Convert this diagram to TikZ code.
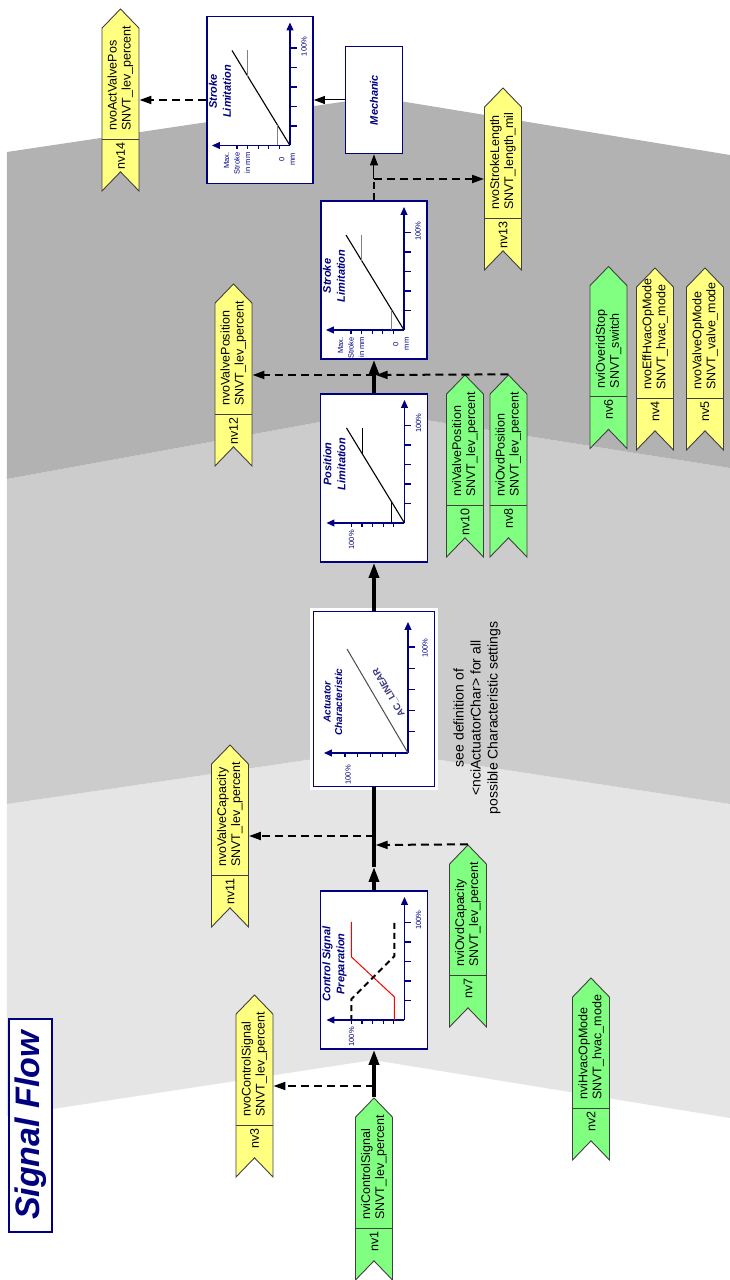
\documentclass[tikz,border=0pt]{standalone}
\usepackage{fontspec}
\setmainfont{Liberation Sans}
\usetikzlibrary{shapes.symbols, arrows.meta}

\definecolor{azul}{RGB}{0,0,128}
\definecolor{verde}{RGB}{128,255,128}
\definecolor{amarillo}{RGB}{255,255,128}
\definecolor{borde}{RGB}{64,64,64}

\tikzset{
  etiqueta/.style={signal, signal to=east, signal from=west, signal pointer angle=88,
    draw=borde, line width=0.9, minimum width=182, minimum height=37, inner sep=0},
  caja/.style={draw=azul, fill=white, line width=1.8, inner sep=0},
  titulo/.style={text=azul, align=center, font=\fontsize{11}{14}\selectfont\bfseries\itshape},
  rotulo/.style={text=azul, font=\fontsize{7.5}{10.5}\selectfont, inner sep=0},
  texto/.style={font=\fontsize{12.5}{14}\selectfont, inner sep=0},
  flujo/.style={line width=3.4, -{Triangle[length=15pt,width=10pt]}},
  salida/.style={line width=2, dash pattern=on 8pt off 5pt, -{Triangle[length=12pt,width=8pt]}},
  fina/.style={line width=1, -{Triangle[length=11pt,width=8pt]}},
  eje/.style={azul, line width=1.2},
}

% etiqueta nv: nombre, x, y, color, nv, linea 1, linea 2
\newcommand{\nvtag}[7]{%
  \node[etiqueta, fill=#4] (#1) at (#2,#3) {};
  \draw[borde, line width=0.9] ({#2-39},{#3-18.5}) -- ({#2-39},{#3+18.5});
  \node[texto, anchor=east] (#1-nv) at ({#2-42},#3) {#5};
  \node[texto, anchor=west, align=left] (#1-txt) at ({#2-31},#3) {#6\\#7};
}

% ejes de un grafico: origen x, origen y, largo x, largo y, paso x, paso y
\newcommand{\ejes}[6]{%
  \begin{scope}[shift={(#1,#2)}]
    \draw[eje, -{Triangle[length=8pt,width=7pt]}] (0,0) -- (#3,0);
    \draw[eje, -{Triangle[length=8pt,width=7pt]}] (0,0) -- (0,#4);
    \foreach \i in {1,...,5}{
      \draw[eje] (\i*#5,0) -- (\i*#5,-7);
      \draw[eje] (0,\i*#6) -- (-4,\i*#6);
    }
  \end{scope}}

\begin{document}
\begin{tikzpicture}[x=1pt, y=1pt, rotate=90, transform shape]
  \useasboundingbox (0,0) rectangle (1280,730);

  % bandas de fondo
  \fill[black!10] (164,723) -- (220,357) -- (162,0) -- (476,0) -- (530,355) -- (476,723) -- cycle;
  \fill[black!20] (476,723) -- (530,355) -- (476,0) -- (812,0) -- (868,355) -- (801,723) -- cycle;
  \fill[black!30] (801,723) -- (868,355) -- (812,0) -- (1125,0) -- (1183,355) -- (1128,723) -- cycle;

  \node[caja, line width=2, minimum width=213, minimum height=43, text=azul,
    font=\fontsize{34}{34}\selectfont\bfseries\itshape] (sf) at (154.5,699.5) {Signal Flow};

  % cajas
  \node[caja, minimum width=158, minimum height=107] (csp) at (310,356) {};
  \node[caja, minimum width=175, minimum height=121, preaction={draw=white, line width=7}] (act) at (581,356) {};
  \node[caja, minimum width=168, minimum height=107] (pos) at (802,356) {};
  \node[caja, minimum width=158, minimum height=106] (str) at (1000,356) {};
  \node[caja, minimum width=107, minimum height=57] (mec) at (1180,356) {};
  \node[caja, minimum width=167, minimum height=106] (strt) at (1180,470) {};
  \node[titulo] (mec-t) at (mec.center) {Mechanic};

  % control signal preparation
  \ejes{260}{325.5}{123}{78}{19.5}{10.6}
  \draw[red, line width=1] (260,335.5) -- (283,335.5) -- (323,378.5) -- (358,378.5);
  \draw[line width=2, dash pattern=on 6pt off 4pt] (357,335.5) -- (324,335.5) -- (281,378.5) -- (260,378.5);
  \node[titulo] (csp-t) at (316,395.5) {Control Signal\\Preparation};
  \node[rotulo] (csp-px) at (360,311.5) {100\%};
  \node[rotulo, anchor=east] (csp-py) at (253,378.5) {100\%};

  % actuator characteristic
  \ejes{527}{322}{131}{84}{21.2}{12.6}
  \draw[gray!60!black, line width=1] (527,322) -- (631,383);
  \node[text=azul!55!gray, rotate=30.4, inner sep=0, font=\fontsize{9.5}{10}\selectfont\bfseries] (act-l) at (588,341) {AC\_LINEAR};
  \node[titulo, font=\fontsize{10}{11.5}\selectfont\bfseries\itshape] (act-t) at (578,397) {Actuator\\Characteristic};
  \node[rotulo] (act-px) at (632,305) {100\%};
  \node[rotulo, anchor=east] (act-py) at (515,382) {100\%};
  \node[font=\fontsize{14}{17}\selectfont, align=center] (nota) at (562,253)
    {see definition of\\<nciActuatorChar> for all\\possible Characteristic settings};

  % position limitation
  \ejes{757}{325.5}{123}{78}{19.5}{10.6}
  \draw[line width=1.1] (757,325.5) -- (852,383.5);
  \draw[line width=1] (825.5,367.5) -- (852,367.5);
  \draw[line width=1] (757,338.5) -- (778,338.5);
  \node[titulo] (pos-t) at (816,395.5) {Position\\Limitation};
  \node[rotulo] (pos-px) at (857,311.5) {100\%};
  \node[rotulo, anchor=east] (pos-py) at (750,378.5) {100\%};

  % stroke limitation
  \foreach \ox/\oy/\n in {950/326/str, 1134.5/440/strt}{
    \ejes{\ox}{\oy}{123}{78}{19.5}{10.6}
    \draw[line width=1.1] (\ox,\oy) -- (\ox+95,\oy+58);
    \draw[gray, line width=1] (\ox+68.5,\oy+42) -- (\ox+95,\oy+42);
    \draw[gray, line width=1] (\ox,\oy+12) -- (\ox+20,\oy+12);
    \node[titulo] (\n-t) at (\ox+54,\oy+70) {Stroke\\Limitation};
    \node[rotulo] (\n-px) at (\ox+99,\oy-14) {100\%};
    \node[rotulo, anchor=east, align=right] (\n-py) at (\ox-7,\oy+53) {Max.\\Stroke\\in mm};
    \node[rotulo, align=center] (\n-cero) at (\ox-14,\oy+3) {0\\mm};
  }

  % etiquetas
  \nvtag{nv1}{91}{356}{verde}{nv1}{nviControlSignal}{SNVT\_lev\_percent}
  \nvtag{nv3}{194}{475.5}{amarillo}{nv3}{nvoControlSignal}{SNVT\_lev\_percent}
  \nvtag{nv2}{211}{139}{verde}{nv2}{nviHvacOpMode}{SNVT\_hvac\_mode}
  \nvtag{nv7}{344}{262}{verde}{nv7}{nviOvdCapacity}{SNVT\_lev\_percent}
  \nvtag{nv11}{444}{500}{amarillo}{nv11}{nvoValveCapacity}{SNVT\_lev\_percent}
  \nvtag{nv12}{905}{496.5}{amarillo}{nv12}{nvoValvePosition}{SNVT\_lev\_percent}
  \nvtag{nv10}{814}{265}{verde}{nv10}{nviValvePosition}{SNVT\_lev\_percent}
  \nvtag{nv8}{814}{221.5}{verde}{nv8}{nviOvdPosition}{SNVT\_lev\_percent}
  \nvtag{nv13}{1101}{227}{amarillo}{nv13}{nvoStrokeLength}{SNVT\_length\_mil}
  \nvtag{nv14}{1180}{609.5}{amarillo}{nv14}{nvoActValvePos}{SNVT\_lev\_percent}
  \nvtag{nv6}{922.5}{121.5}{verde}{nv6}{nviOveridStop}{SNVT\_switch}
  \nvtag{nv4}{921}{75}{amarillo}{nv4}{nvoEffHvacOpMode}{SNVT\_hvac\_mode}
  \nvtag{nv5}{921}{25}{amarillo}{nv5}{nvoValveOpMode}{SNVT\_valve\_mode}

  % puntos de union
  \coordinate (j3) at (194,356);
  \coordinate (a1) at (413,356);
  \coordinate (e7) at (435,354.3);
  \coordinate (j11) at (444,356);
  \coordinate (j12) at (905,356);
  \coordinate (e8) at (905,354.3);
  \coordinate (j13) at (1101,356);

  % flechas
  \draw[flujo] (nv1.east) -- (csp.west);
  \draw[salida] (j3) -- (nv3.south);
  \draw[flujo] (csp.east) -- (a1);
  \draw[line width=3.4] (a1) -- (act.west);
  \draw[salida] (nv7.east) -- (e7);
  \draw[salida] (j11) -- (nv11.south);
  \draw[flujo] (act.east) -- (pos.west);
  \draw[flujo] (pos.east) -- (str.west);
  \draw[salida] (j12) -- (nv12.south);
  \draw[salida] (nv8.east) -- (e8);
  \draw[line width=2.4, dash pattern=on 7pt off 4pt] (str.east) -- (j13);
  \draw[fina] (j13) -- (mec.west);
  \draw[salida] (j13) -- (nv13.north);
  \draw[fina] (mec.north) -- (strt.south);
  \draw[salida] (strt.north) -- (nv14.south);
\end{tikzpicture}
\end{document}
